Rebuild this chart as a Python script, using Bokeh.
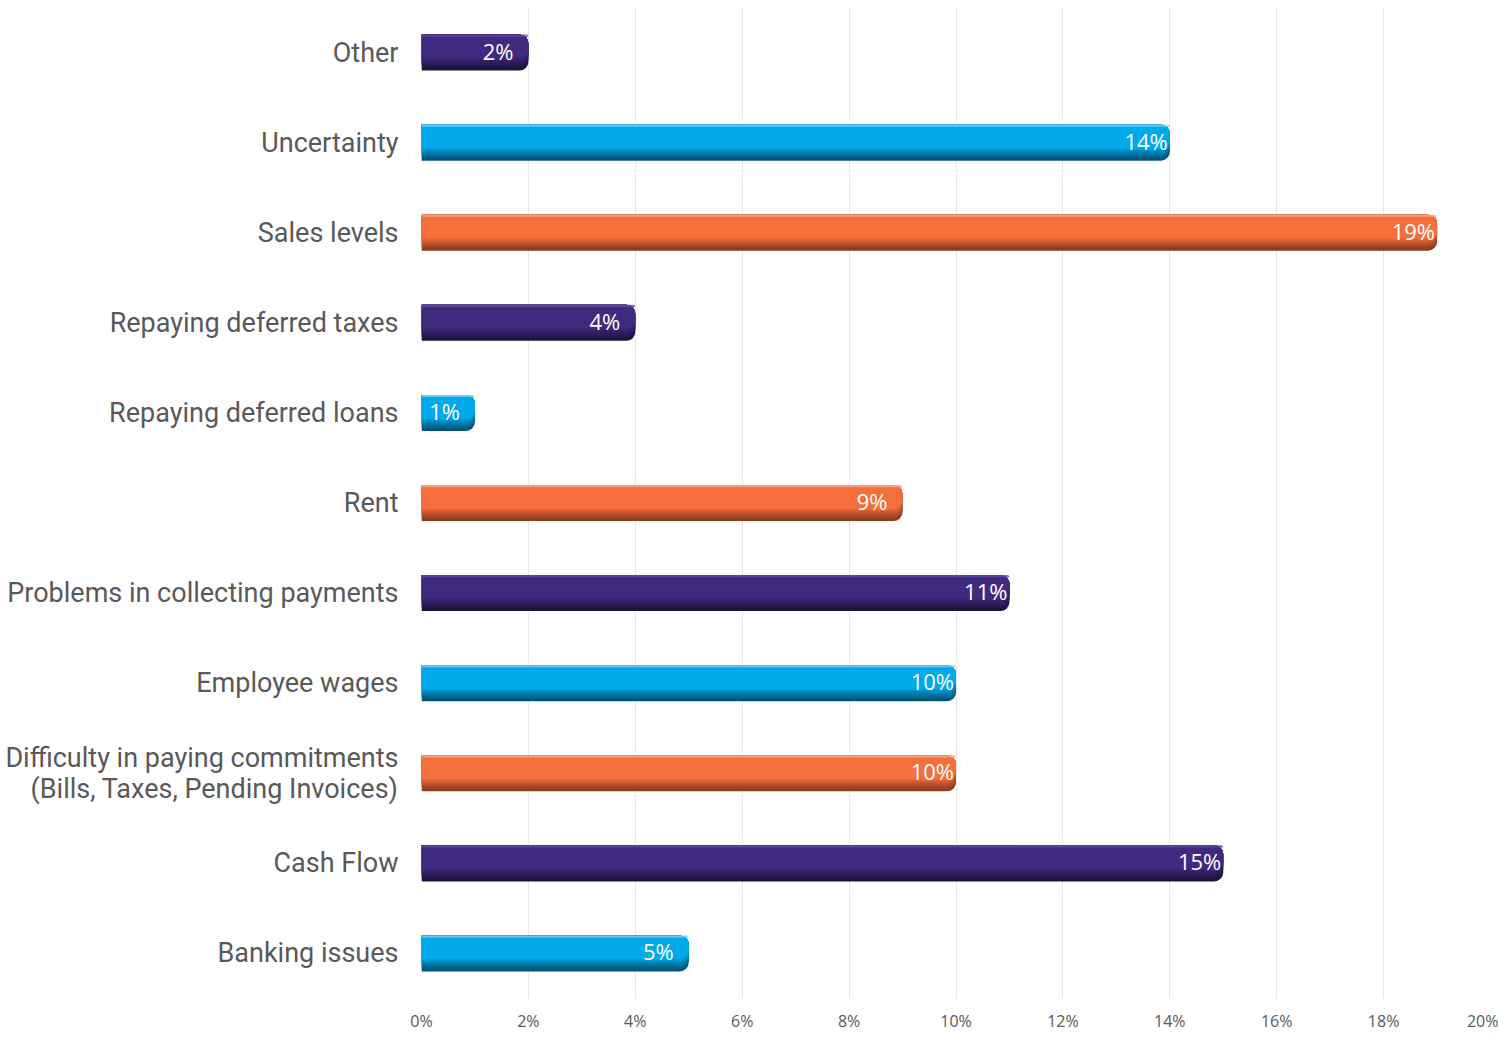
from bokeh.plotting import figure
from bokeh.models import ColumnDataSource, FixedTicker, NumeralTickFormatter
from bokeh.transform import dodge
from bokeh.core.properties import value
from bokeh.embed import file_html
from bokeh.resources import INLINE

categories = [
    "Other",
    "Uncertainty",
    "Sales levels",
    "Repaying deferred taxes",
    "Repaying deferred loans",
    "Rent",
    "Problems in collecting payments",
    "Employee wages",
    "Difficulty in paying commitments\n(Bills, Taxes, Pending Invoices)",
    "Cash Flow",
    "Banking issues",
]
values = [0.02, 0.14, 0.19, 0.04, 0.01, 0.09, 0.11, 0.10, 0.10, 0.15, 0.05]
labels = ["2%", "14%", "19%", "4%", "1%", "9%", "11%", "10%", "10%", "15%", "5%"]
series = ["purple", "blue", "orange", "purple", "blue", "orange",
          "purple", "blue", "orange", "purple", "blue"]
tick_values = [0.0, 0.02, 0.04, 0.06, 0.08, 0.10, 0.12, 0.14, 0.16, 0.18, 0.20]

palette = {
    "purple": {"hi": "#5b4c9c", "main": "#3e2a7e", "bottom": "#1f123f"},
    "blue": {"hi": "#7fd3f3", "main": "#00a9e9", "bottom": "#00557a"},
    "orange": {"hi": "#f8a888", "main": "#f56f3b", "bottom": "#8f3c22"},
}


def hex2rgb(h):
    h = h.lstrip("#")
    return tuple(int(h[i:i + 2], 16) for i in (0, 2, 4))


def mix(a, b, t):
    ra, rb = hex2rgb(a), hex2rgb(b)
    return "#%02x%02x%02x" % tuple(int(round(x + (y - x) * t)) for x, y in zip(ra, rb))


p = figure(
    width=1498, height=1038,
    y_range=list(reversed(categories)),
    x_range=(0, 0.20),
    output_backend="svg", toolbar_location=None,
    min_border_left=421, min_border_right=8, min_border_top=7, min_border_bottom=40,
)
p.outline_line_color = None
p.background_fill_color = "white"
p.border_fill_color = "white"

BAR_H = 0.4
layers = [(1.0, 1.0), (0.92, 0.8), (0.85, 0.6), (0.78, 0.4), (0.72, 0.2), (0.66, 0.0)]

for key in ["purple", "blue", "orange"]:
    idx = [i for i, s in enumerate(series) if s == key]
    src = ColumnDataSource(dict(cat=[categories[i] for i in idx], val=[values[i] for i in idx]))
    col = palette[key]
    for frac, t in layers:
        hl = BAR_H * frac
        off = BAR_H / 2 - hl / 2
        p.hbar(y=dodge("cat", off, range=p.y_range), right="val", left=0, height=hl,
               source=src, fill_color=mix(col["main"], col["bottom"], t),
               line_color=None, border_radius=(0, 9, 9, 0))
    hl = BAR_H * 0.06
    p.hbar(y=dodge("cat", BAR_H / 2 - hl / 2, range=p.y_range), right="val", left=0,
           height=hl, source=src, fill_color=col["hi"], fill_alpha=0.8,
           line_color=None, border_radius=(0, 6, 0, 0))

offsets = [-15 if len(s) == 2 else -2 for s in labels]
lab_src = ColumnDataSource(dict(cat=categories, val=values, lab=labels, off=offsets))
p.text(x="val", y="cat", text="lab", source=lab_src, x_offset="off", y_offset=-2,
       text_align="right", text_baseline="middle", text_color="white",
       text_font=value("Open Sans"), text_font_size="22px")

p.xaxis.ticker = FixedTicker(ticks=tick_values)
p.xaxis.formatter = NumeralTickFormatter(format="0%")
p.xaxis.axis_line_color = None
p.xaxis.major_tick_line_color = None
p.xaxis.minor_tick_line_color = None
p.xaxis.major_tick_out = 0
p.xaxis.major_label_standoff = 11
p.xaxis.major_label_text_font = "Open Sans"
p.xaxis.major_label_text_font_size = "16px"
p.xaxis.major_label_text_color = "#595959"

p.yaxis.axis_line_color = None
p.yaxis.major_tick_line_color = None
p.yaxis.major_tick_out = 0
p.yaxis.major_label_standoff = 23
p.yaxis.major_label_text_font = "Roboto"
p.yaxis.major_label_text_font_size = "27px"
p.yaxis.major_label_text_line_height = 0.98
p.yaxis.major_label_text_color = "#595959"

p.xgrid.ticker = FixedTicker(ticks=tick_values)
p.xgrid.grid_line_color = "#e8e8e8"
p.xgrid.grid_line_width = 1
p.ygrid.grid_line_color = None

open("out.html", "w").write(file_html(p, INLINE))
